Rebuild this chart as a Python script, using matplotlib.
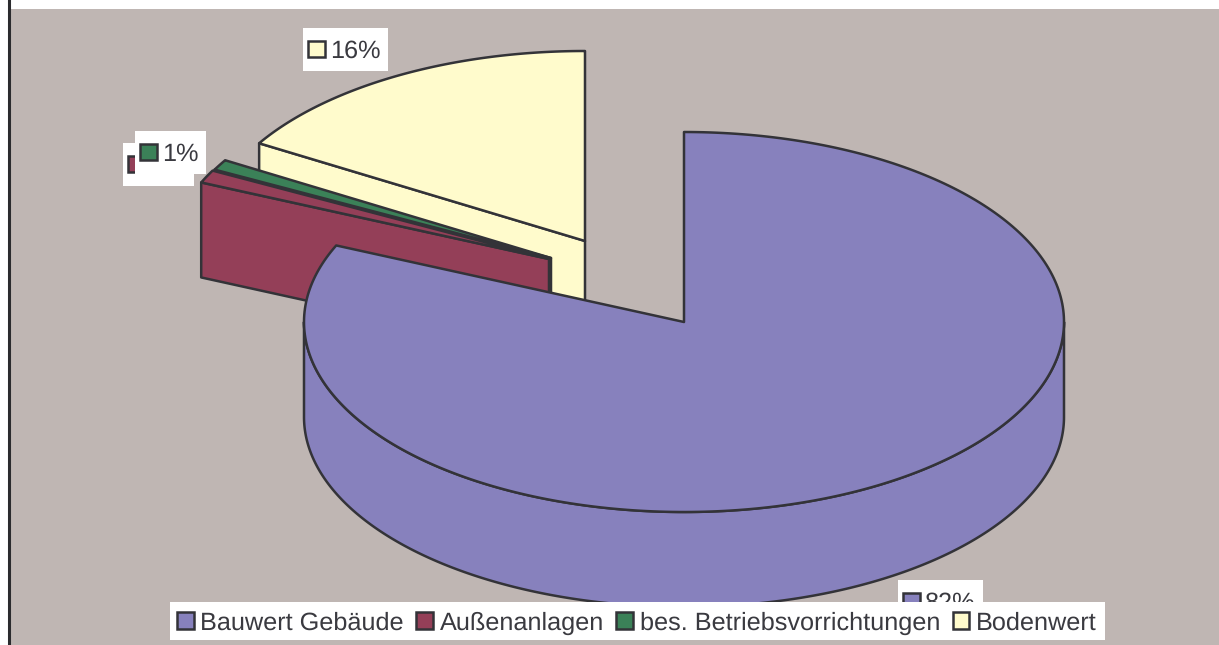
import numpy as np
import matplotlib
matplotlib.use("Agg")
import matplotlib.pyplot as plt
from matplotlib.patches import Polygon, Rectangle, Patch

# --- data ---
categories = ["Bauwert Gebäude", "Außenanlagen", "bes. Betriebsvorrichtungen", "Bodenwert"]
values = [81.6, 1.1, 0.9, 16.4]
colors = ["#8781BD", "#943F58", "#3B8158", "#FFFBCC"]

# --- layout (pixels) ---
W, H = 1219, 645
BG = "#BFB6B3"
EDGE = "#333338"
TEXT = "#3A3A40"
AX_L, AX_T, AX_R, AX_B = 11, 9, 1219, 645
CX, CY = 684, 322
RX, RY = 380, 190
DEPTH = 95
offsets = [(0, 0), (-135, -63), (-133, -64), (-99, -81)]
label_boxes = [(898, 580, 85, 43), (123, 143, 71, 43), (135, 131, 71, 43), (303, 28, 85, 43)]
legend_box = (170, 602, 935, 38)
draw_order = [3, 2, 1, 0]

plt.rcParams["font.family"] = ["Liberation Sans", "DejaVu Sans"]
plt.rcParams["text.hinting"] = "no_hinting"
FS = 25.2 * 72 / 100
LW = 1.8

fig = plt.figure(figsize=(W / 100, H / 100), dpi=100, facecolor="white")
ax = fig.add_axes([AX_L / W, 1 - AX_B / H, (AX_R - AX_L) / W, (AX_B - AX_T) / H])
ax.set_xlim(AX_L, AX_R)
ax.set_ylim(AX_B, AX_T)
ax.set_axis_off()
ax.add_patch(Rectangle((AX_L, AX_T), AX_R - AX_L, AX_B - AX_T, fc=BG, ec="none", zorder=0))
fig.add_artist(plt.Line2D([8.5 / W, 8.5 / W], [0, 1], color="#2B2B2E", lw=2.2))


def pt(theta, ox, oy, dz=0):
    t = np.radians(theta)
    return np.column_stack([CX + ox + RX * np.sin(t), CY + oy - RY * np.cos(t) + dz])


bounds = np.concatenate([[0], np.cumsum(values)]) * 360 / sum(values)
z = 1.0
for i in draw_order:
    a, b = bounds[i], bounds[i + 1]
    ox, oy = offsets[i]
    col = colors[i]
    th = np.linspace(a, b, 300)
    centre = np.array([[CX + ox, CY + oy]])
    kw = dict(fc=col, ec=EDGE, lw=LW, joinstyle="round")
    # rim (front half only)
    lo, hi = max(a, 90), min(b, 270)
    if hi > lo:
        tr = np.linspace(lo, hi, 300)
        rim = np.vstack([pt(tr, ox, oy), pt(tr[::-1], ox, oy, DEPTH)])
        ax.add_patch(Polygon(rim, zorder=z, **kw))
        z += 0.01
    # front-facing cut face of the exploded slices
    if i != 0:
        e = pt(np.array([a]), ox, oy)
        face = np.vstack([centre, e, e + [0, DEPTH], centre + [0, DEPTH]])
        ax.add_patch(Polygon(face, zorder=z, **kw))
        z += 0.01
    # top
    ax.add_patch(Polygon(np.vstack([centre, pt(th, ox, oy)]), zorder=z, **kw))
    z += 0.01

# data labels (white box, colour key, percentage)
for i in [0, 1, 2, 3]:
    x, y, w, h = label_boxes[i]
    ax.add_patch(Rectangle((x, y), w, h, fc="white", ec="none", zorder=3 + i * 0.1))
    ax.add_patch(Rectangle((x + 5, y + 13), 16.5, 16.5, fc=colors[i], ec=EDGE, lw=LW, zorder=3 + i * 0.1 + 0.01))
    ax.text(x + 27, y + 20.5, f"{values[i]:.0f}%", fontsize=FS, color=TEXT, va="center_baseline", ha="left",
            zorder=3 + i * 0.1 + 0.02)

# legend on its own white panel
lx, ly, lw_, lh = legend_box
ax.add_patch(Rectangle((lx, ly), lw_, lh, fc="white", ec="none", zorder=9))
handles = [Patch(fc=c, ec=EDGE, lw=LW) for c in colors]
leg = ax.legend(handles, categories, ncol=4, loc="lower left", frameon=False,
                fontsize=FS, labelcolor=TEXT,
                bbox_to_anchor=(lx + 7, ly + lh - 5), bbox_transform=ax.transData, borderaxespad=0,
                borderpad=0, handlelength=0.66, handleheight=0.66, handletextpad=0.26,
                columnspacing=0.5, labelspacing=0)
leg.set_zorder(10)

fig.savefig("out.png", dpi=100, facecolor="white")
